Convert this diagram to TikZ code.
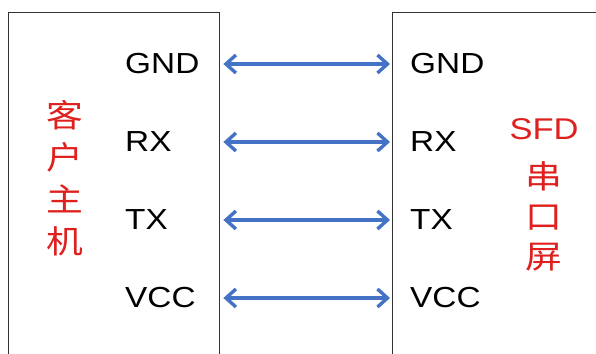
\documentclass[tikz,border=0pt]{standalone}
\usepackage{fontspec}
\setmainfont{Liberation Sans}
\newfontfamily\cjk{Noto Sans CJK SC}
\usetikzlibrary{arrows.meta,positioning}
\definecolor{linkblue}{RGB}{68,114,196}
\definecolor{tagred}{RGB}{222,32,30}

\begin{document}
\begin{tikzpicture}[x=1pt, y=-1pt]
    \tikzstyle{box} = [rectangle, draw=black!80, line width=1.4pt, anchor=north west, inner sep=0pt,
                                      minimum height=420pt]
    \tikzstyle{pin} = [anchor=west, inner sep=0pt, xscale=1.15, font=\fontsize{29}{34}\selectfont]
    \tikzstyle{tag} = [text=tagred, align=center, inner sep=0pt, xscale=1.15,
                                      font=\cjk\fontsize{32}{42}\selectfont]
    \tikzstyle{link} = [draw=linkblue, line width=3.4pt, shorten <=3pt, shorten >=2pt,
                                      {Straight Barb[length=10pt, width=18pt]}-{Straight Barb[length=10pt, width=18pt]}]
  \useasboundingbox (0,0) rectangle (596,353);
  % both boards run off the bottom (and the right) of the page
  \node[box, minimum width=211pt](host) at (8,12){};
  \node[box, minimum width=260pt](screen) at (392,12){};
  \node[pin](gndL) at (125,64){GND};
  \node[pin, below=78pt of gndL.west, anchor=west](rxL){RX};
  \node[pin, below=78pt of rxL.west, anchor=west](txL){TX};
  \node[pin, below=78pt of txL.west, anchor=west](vccL){VCC};
  \node[pin](gndR) at (410,64){GND};
  \node[pin, below=78pt of gndR.west, anchor=west](rxR){RX};
  \node[pin, below=78pt of rxR.west, anchor=west](txR){TX};
  \node[pin, below=78pt of txR.west, anchor=west](vccR){VCC};
  \node[tag](hostname) at (65,178){客\\户\\主\\机};
  \node[tag, font=\cjk\fontsize{32}{40}\selectfont](screenname) at (544,194.5){{\rmfamily\fontsize{30}{40}\selectfont SFD}\\[9pt]串\\口\\屏};
  \draw[link] (gndL.west -| host.east) -- (gndL.west -| screen.west);
  \draw[link] (rxL.west -| host.east) -- (rxL.west -| screen.west);
  \draw[link] (txL.west -| host.east) -- (txL.west -| screen.west);
  \draw[link] (vccL.west -| host.east) -- (vccL.west -| screen.west);
  \end{tikzpicture}
\end{document}
